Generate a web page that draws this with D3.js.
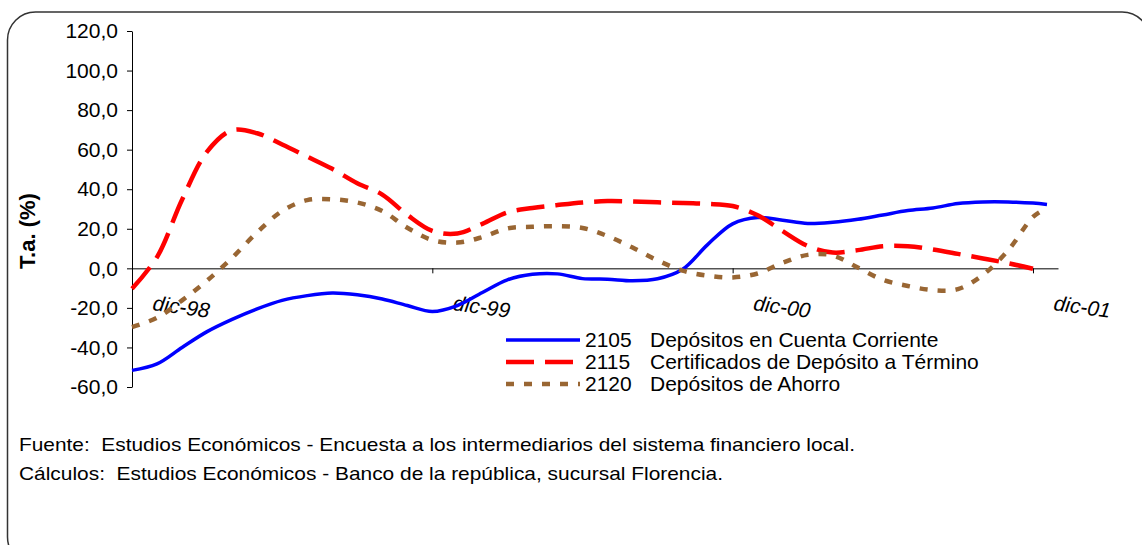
<!DOCTYPE html>
<html>
<head>
<meta charset="utf-8">
<script src="https://cdn.jsdelivr.net/npm/d3@7"></script>
<style>
  body { margin: 0; background: #fff; }
  svg { display: block; font-family: "Liberation Sans", Arial, sans-serif; }
</style>
</head>
<body>
<div class="root"></div>
<script>
const w = 1142;
const h = 545;

// months counted from dic-98
const mesesAzul = [0,1,2,3,4,5,6,7,8,9,10,11,12,13,14,15,16,17,18,19,20,21,22,23,24,25,26,27,28,29,30,31,32,33,34,35,36,36.56];
const mesesRojo = [0,1,2,3,4,5,6,7,8,9,10,11,12,13,14,15,16,17,18,19,20,21,22,23,24,25,26,27,28,29,30,31,32,33,34,35,36];
const mesesCafe = [0,1,2,3,4,5,6,7,8,9,10,11,12,13,14,15,16,17,18,19,20,21,22,23,24,25,26,27,28,29,30,31,32,33,34,35,36,36.4];

const cuentaCorriente = [-51.6,-48.3,-40,-32,-25.8,-20.5,-16.2,-13.8,-12.5,-13.4,-15.5,-18.8,-21.8,-18.8,-12.2,-5.8,-3,-2.8,-5.2,-5.5,-6.3,-5.3,-0.5,12,22.5,25.7,24.3,22.7,23.3,24.8,27,29.2,30.5,32.8,33.6,33.6,33.0,32.3];
const certificados = [-10.3,5.7,34.7,59,69.8,68.3,62.6,56.5,50.3,43,37.3,27,18.9,17.6,22.5,28.3,30.5,32,33.3,34,33.8,33.4,33,32.6,31.5,26.8,18.8,11.3,8,9.2,11.2,11.2,9.5,7.3,5,2.6,-0.2];
const ahorro = [-29.7,-25,-16.2,-6.2,5.3,18.2,29,34.5,34.9,33.3,29,20.5,14.3,13,15.8,20.2,21,21.3,20.4,16.3,10.5,4,-1.2,-3.7,-4.6,-2.6,2.8,6.8,6.5,0.4,-5.8,-8.9,-11,-10.5,-3.3,9,26,29.4];

const yTicks = [-60,-40,-20,0,20,40,60,80,100,120];
const xTickMeses = [0,12,24,36];
const xTickLabels = ["dic-98","dic-99","dic-00","dic-01"];

const codigos = ["2105","2115","2120"];
const nombres = ["Depósitos en Cuenta Corriente","Certificados de Depósito a Término","Depósitos de Ahorro"];

const fuente = "Fuente:  Estudios Económicos - Encuesta a los intermediarios del sistema financiero local.";
const calculos = "Cálculos:  Estudios Económicos - Banco de la república, sucursal Florencia.";

const series = [
  {x: mesesAzul, v: cuentaCorriente, color: "#0000ff", width: 3.5, dash: null},
  {x: mesesRojo, v: certificados, color: "#ff0000", width: 4.5, dash: "28,11"},
  {x: mesesCafe, v: ahorro, color: "#996633", width: 4.5, dash: "8,10"}
];

const svg = d3.select(".root")
              .append("svg")
              .attr("width", w)
              .attr("height", h);

// rounded frame
svg.append("rect")
   .attr("x", 7.5).attr("y", 12)
   .attr("width", 1142.5).attr("height", 553)
   .attr("rx", 28).attr("ry", 28)
   .attr("fill", "#fff")
   .attr("stroke", "#333")
   .attr("stroke-width", 1.5);

const xScale = d3.scaleLinear()
                 .domain([0, 37])
                 .range([132, 1058]);

const yScale = d3.scaleLinear()
                 .domain([-60, 120])
                 .range([387, 31]);

const loc = d3.formatLocale({decimal: ",", thousands: ".", grouping: [3], currency: ["$", ""], minus: "-"});
const fmt = loc.format(".1f");

// y axis
const yAxis = d3.axisLeft(yScale)
                .tickValues(yTicks)
                .tickFormat(fmt)
                .tickSize(5)
                .tickSizeOuter(0)
                .tickPadding(9);

const gy = svg.append("g")
   .attr("transform", "translate(" + xScale(0) + ",0)")
   .call(yAxis);
gy.selectAll("text").style("font-size", "21px").attr("fill", "#000");
gy.selectAll("line, path").attr("stroke", "#000");

// x axis on the zero line
const xAxis = d3.axisBottom(xScale)
                .tickValues(xTickMeses)
                .tickFormat("")
                .tickSize(5)
                .tickSizeOuter(0);

const gx = svg.append("g")
   .attr("transform", "translate(0," + yScale(0) + ")")
   .call(xAxis);
gx.selectAll("line, path").attr("stroke", "#000");

// slanted month labels
svg.selectAll(".xlab")
   .data(xTickMeses)
   .enter()
   .append("text")
   .attr("class", "xlab")
   .attr("transform", (d) => "translate(" + (xScale(d) + 20) + ",310) rotate(8)")
   .style("font-size", "21px")
   .style("font-style", "italic")
   .text((d, i) => xTickLabels[i]);

// y title
svg.append("text")
   .attr("text-anchor", "middle")
   .attr("transform", "translate(35,231) rotate(-90)")
   .style("font-size", "22px")
   .style("font-weight", "bold")
   .text("T.a. (%)");

// lines
const line = d3.line()
               .x((d) => xScale(d[0]))
               .y((d) => yScale(d[1]))
               .curve(d3.curveCatmullRom.alpha(0.5));

series.forEach((s) => {
  svg.append("path")
     .datum(s.x.map((m, i) => [m, s.v[i]]))
     .attr("d", line)
     .attr("fill", "none")
     .attr("stroke", s.color)
     .attr("stroke-width", s.width)
     .attr("stroke-dasharray", s.dash);
});

// legend
const leg = svg.append("g");
series.forEach((s, i) => {
  const yy = 340 + i * 22;
  leg.append("line")
     .attr("x1", 506).attr("x2", 580)
     .attr("y1", yy).attr("y2", yy)
     .attr("stroke", s.color)
     .attr("stroke-width", s.width)
     .attr("stroke-dasharray", s.dash);
  leg.append("text")
     .attr("x", 585).attr("y", yy + 7)
     .style("font-size", "21px")
     .text(codigos[i]);
  leg.append("text")
     .attr("x", 650).attr("y", yy + 7)
     .style("font-size", "21px")
     .text(nombres[i]);
});

// sources
svg.append("text")
   .attr("x", 19).attr("y", 451)
   .attr("textLength", 836)
   .attr("lengthAdjust", "spacingAndGlyphs")
   .style("font-size", "19px")
   .style("white-space", "pre")
   .text(fuente);

svg.append("text")
   .attr("x", 19).attr("y", 480)
   .attr("textLength", 704)
   .attr("lengthAdjust", "spacingAndGlyphs")
   .style("font-size", "19px")
   .style("white-space", "pre")
   .text(calculos);
</script>
</body>
</html>
